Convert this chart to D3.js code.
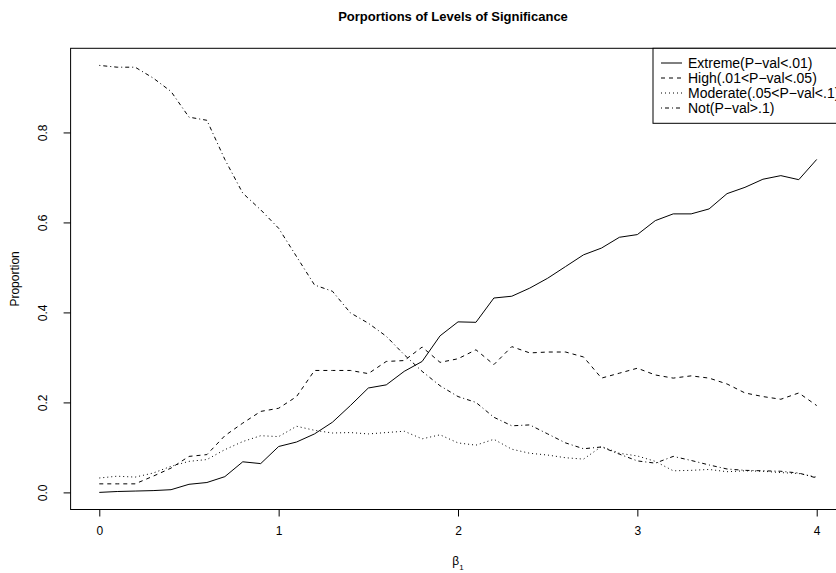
<!DOCTYPE html>
<html>
<head>
<meta charset="utf-8">
<script src="https://cdn.jsdelivr.net/npm/d3@7"></script>
<style>
  body { margin: 0; background: #fff; }
  text { font-family: "Liberation Sans", Arial, sans-serif; }
</style>
</head>
<body>
<div id="my_dataviz"></div>
<script>
// beta_1 values 0, 0.1, ..., 4
var beta = d3.range(41).map(function(i) { return +(i / 10).toFixed(1); });

var extreme = [0.000, 0.002, 0.003, 0.004, 0.006, 0.018, 0.022, 0.035, 0.068, 0.064,
  0.102, 0.112, 0.130, 0.156, 0.193, 0.232, 0.239, 0.269, 0.291, 0.348,
  0.379, 0.378, 0.432, 0.436, 0.454, 0.476, 0.502, 0.528, 0.543, 0.567,
  0.573, 0.604, 0.619, 0.619, 0.630, 0.664, 0.678, 0.696, 0.704, 0.695, 0.740];

var high = [0.019, 0.019, 0.019, 0.036, 0.054, 0.080, 0.084, 0.126, 0.154, 0.180,
  0.187, 0.213, 0.271, 0.271, 0.271, 0.264, 0.291, 0.293, 0.323, 0.289,
  0.297, 0.317, 0.284, 0.324, 0.310, 0.312, 0.312, 0.301, 0.254, 0.265,
  0.276, 0.261, 0.254, 0.259, 0.254, 0.241, 0.221, 0.213, 0.207, 0.221, 0.193];

var moderate = [0.032, 0.036, 0.034, 0.043, 0.058, 0.069, 0.073, 0.095, 0.113, 0.126,
  0.124, 0.147, 0.138, 0.132, 0.133, 0.130, 0.133, 0.136, 0.119, 0.128,
  0.110, 0.105, 0.118, 0.096, 0.087, 0.083, 0.077, 0.074, 0.102, 0.087,
  0.081, 0.069, 0.048, 0.049, 0.051, 0.046, 0.048, 0.047, 0.044, 0.042, 0.034];

var notSig = [0.949, 0.945, 0.945, 0.921, 0.891, 0.834, 0.827, 0.740, 0.665, 0.628,
  0.587, 0.524, 0.461, 0.447, 0.399, 0.376, 0.347, 0.306, 0.269, 0.237,
  0.213, 0.200, 0.167, 0.148, 0.150, 0.130, 0.110, 0.097, 0.101, 0.085,
  0.070, 0.065, 0.080, 0.071, 0.061, 0.052, 0.049, 0.048, 0.047, 0.043, 0.032];

var legendLabels = ["Extreme(P\u2212val<.01)", "High(.01<P\u2212val<.05)",
  "Moderate(.05<P\u2212val<.1)", "Not(P\u2212val>.1)"];
var xTicks = [0, 1, 2, 3, 4];
var yTicks = [0.0, 0.2, 0.4, 0.6, 0.8];

var series = [
  {name: legendLabels[0], values: extreme, dash: null},
  {name: legendLabels[1], values: high, dash: "4,4"},
  {name: legendLabels[2], values: moderate, dash: "1,3"},
  {name: legendLabels[3], values: notSig, dash: "1,3,4,3"}
];

var width = 836, height = 573;

var svg = d3.select("#my_dataviz")
  .append("svg")
    .attr("width", width)
    .attr("height", height);

// R style: axis range extended 4% on each side
var x = d3.scaleLinear().domain([-0.16, 4.16]).range([70.6, 845.4]);
var y = d3.scaleLinear().domain([-0.038, 0.987]).range([509.5, 48.3]);

var line = d3.line()
  .x(function(d, i) { return x(beta[i]); })
  .y(function(d) { return y(d); });

svg.append("g")
  .selectAll("path")
  .data(series)
  .enter()
  .append("path")
    .attr("fill", "none")
    .attr("stroke", "#000")
    .attr("stroke-width", 1)
    .attr("stroke-dasharray", function(d) { return d.dash; })
    .attr("d", function(d) { return line(d.values); });

// plot box
svg.append("rect")
  .attr("x", x.range()[0])
  .attr("y", y.range()[1])
  .attr("width", x.range()[1] - x.range()[0])
  .attr("height", y.range()[0] - y.range()[1])
  .attr("fill", "none")
  .attr("stroke", "#000");

// x axis
var xAxis = svg.append("g")
  .attr("transform", "translate(0," + y.range()[0] + ")")
  .call(d3.axisBottom(x).tickValues(xTicks).tickFormat(d3.format("d")).tickSize(7).tickSizeOuter(0).tickPadding(10));
xAxis.select(".domain").remove();
xAxis.selectAll("text").style("font-size", "12px").attr("fill", "#000");

// y axis
var yAxis = svg.append("g")
  .attr("transform", "translate(" + x.range()[0] + ",0)")
  .call(d3.axisLeft(y).tickValues(yTicks).tickFormat(d3.format(".1f")).tickSize(7).tickSizeOuter(0));
yAxis.select(".domain").remove();
yAxis.selectAll("text")
  .style("font-size", "12px")
  .attr("fill", "#000")
  .attr("text-anchor", "middle")
  .attr("dy", null)
  .attr("x", null)
  .attr("transform", "translate(-27,0) rotate(-90)")
  .attr("dominant-baseline", "middle");

// title and axis labels
svg.append("text")
  .attr("x", 453)
  .attr("y", 21)
  .attr("text-anchor", "middle")
  .style("font-size", "13px")
  .style("font-weight", "bold")
  .text("Porportions of Levels of Significance");

svg.append("text")
  .attr("x", 458)
  .attr("y", 565)
  .attr("text-anchor", "middle")
  .style("font-size", "12px")
  .text("\u03b2")
  .append("tspan")
    .attr("baseline-shift", "sub")
    .style("font-size", "8px")
    .text("1");

svg.append("text")
  .attr("transform", "translate(19," + ((y.range()[0] + y.range()[1]) / 2) + ") rotate(-90)")
  .attr("text-anchor", "middle")
  .style("font-size", "12px")
  .text("Proportion");

// legend (top right, spills past the window like the original)
var legend = svg.append("g");
legend.append("rect")
  .attr("x", 653)
  .attr("y", y.range()[1])
  .attr("width", x.range()[1] - 653)
  .attr("height", 75)
  .attr("fill", "#fff")
  .attr("stroke", "#000");

var item = legend.selectAll("g.item")
  .data(series)
  .enter()
  .append("g")
    .attr("class", "item")
    .attr("transform", function(d, i) { return "translate(0," + (63 + i * 15) + ")"; });

item.append("line")
  .attr("x1", 661).attr("x2", 682)
  .attr("y1", 0).attr("y2", 0)
  .attr("stroke", "#000")
  .attr("stroke-dasharray", function(d) { return d.dash; });

item.append("text")
  .attr("x", 688)
  .attr("y", 0)
  .attr("dy", "0.35em")
  .style("font-size", "14px")
  .text(function(d) { return d.name; });
</script>
</body>
</html>
